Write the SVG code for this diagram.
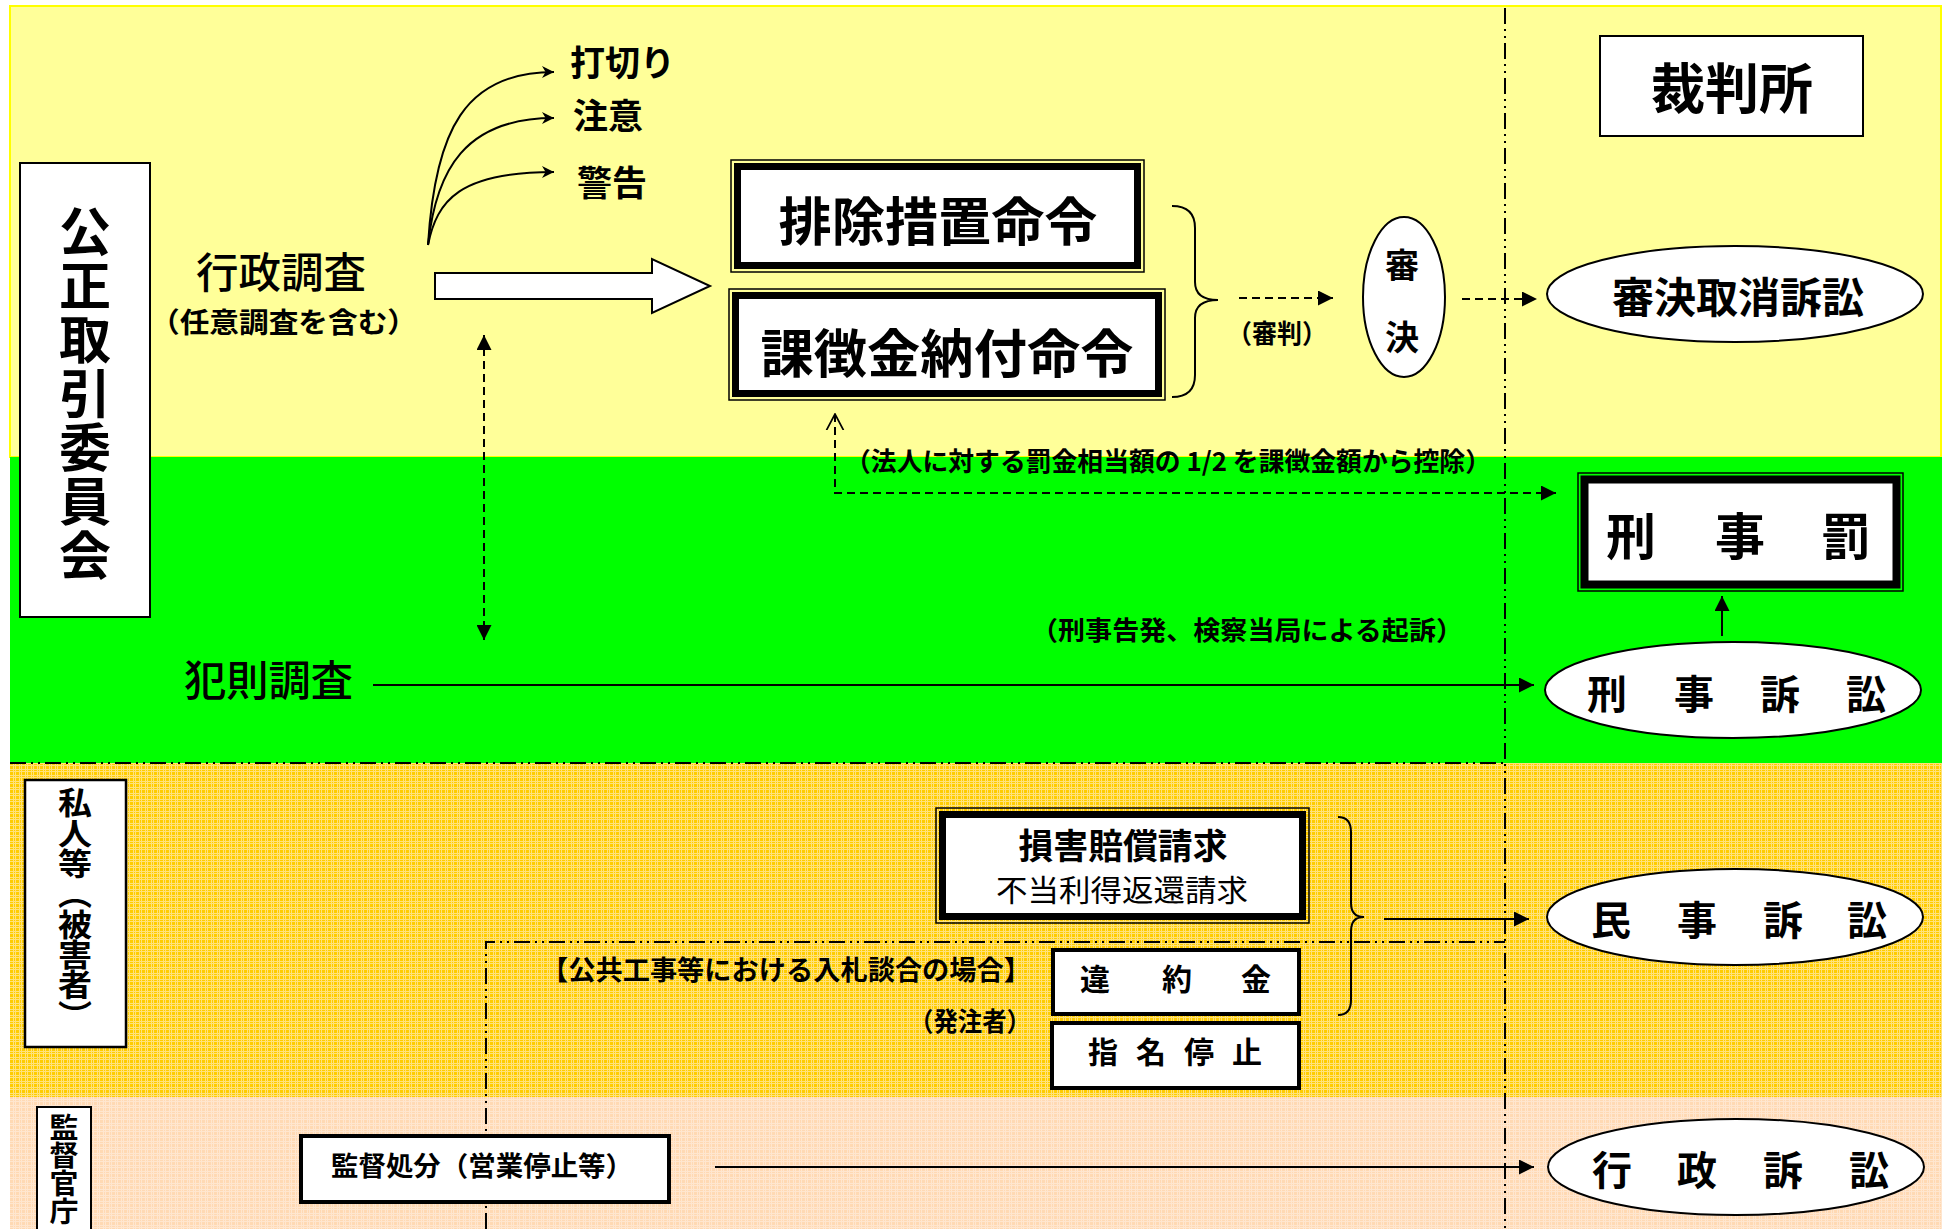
<svg xmlns="http://www.w3.org/2000/svg" width="1944" height="1229" viewBox="0 0 1944 1229">
<style>
text{font-family:"Noto Sans CJK JP","Noto Sans CJK SC",sans-serif;fill:#000;font-weight:700}
.m{text-anchor:middle}
.reg{font-weight:400}
.med{font-weight:500}
.vt{writing-mode:vertical-rl;text-anchor:middle}
.box{fill:#fff;stroke:#000;stroke-width:2}
.box4{fill:#fff;stroke:#000;stroke-width:4}
.fo{fill:none;stroke:#000;stroke-width:1.5}
.fi{fill:#fff;stroke:#000;stroke-width:7}
.ell{fill:#fff;stroke:#000;stroke-width:2}
.ln{fill:none;stroke:#000;stroke-width:2}
.dash{fill:none;stroke:#000;stroke-width:2;stroke-dasharray:8 5}
.dd{fill:none;stroke:#000;stroke-width:2;stroke-dasharray:16 5 2 5 2 5}
</style>
<defs>
<marker id="ah" viewBox="0 0 10 10" refX="10" refY="5" markerUnits="userSpaceOnUse" markerWidth="15" markerHeight="15" orient="auto-start-reverse"><path d="M0,0 L10,5 L0,10 z" fill="#000"/></marker>
<marker id="ahs" viewBox="0 0 10 10" refX="10" refY="5" markerUnits="userSpaceOnUse" markerWidth="13" markerHeight="12" orient="auto"><path d="M0,0 L10,5 L0,10 L3,5 z" fill="#000"/></marker>
<marker id="aho" viewBox="0 0 20 20" refX="19" refY="10" markerUnits="userSpaceOnUse" markerWidth="17" markerHeight="20" orient="auto-start-reverse"><path d="M0,0 L19,10 L0,20" fill="none" stroke="#000" stroke-width="2"/></marker>
<pattern id="gold" width="6" height="6" patternUnits="userSpaceOnUse"><rect width="6" height="6" fill="#FFCC00"/><path d="M0,1.5 H6 M0,3.5 H6 M1.5,0 V6 M3.5,0 V6" stroke="#FFE27A" stroke-width="1"/></pattern>
<pattern id="peach" width="6" height="6" patternUnits="userSpaceOnUse"><rect width="6" height="6" fill="#FFD9B3"/><path d="M0,1.5 H6 M0,3.5 H6 M1.5,0 V6 M3.5,0 V6" stroke="#FFE6CF" stroke-width="1"/></pattern>
</defs>

<g id="background">
<rect x="10" y="6" width="1931" height="451" fill="#FFFF99" stroke="#FFFF00" stroke-width="2"/>
<rect x="10" y="457" width="1932" height="306" fill="#00FF00"/>
<rect x="10" y="763" width="1932" height="334" fill="url(#gold)"/>
<rect x="10" y="1097" width="1932" height="132" fill="url(#peach)"/>
<path class="dd" d="M10,763 H1505"/>
<path class="dd" d="M1505,8 V1229"/>
<path class="dd" d="M486,1229 V942 H1505"/>
</g>

<g id="connectors">
<path class="ln" d="M428,245 C435,130 465,72 554,72" marker-end="url(#ahs)"/>
<path class="ln" d="M428,245 C436,170 465,118 554,118" marker-end="url(#ahs)"/>
<path class="ln" d="M428,245 C437,200 460,172 554,172" marker-end="url(#ahs)"/>
<polygon points="435,273 652,273 652,259 710,286 652,313 652,299 435,299" fill="#fff" stroke="#000" stroke-width="2"/>
<path class="dash" d="M484,335 V640" marker-start="url(#ah)" marker-end="url(#ah)"/>
<path class="ln" d="M1172,206 Q1195,206 1195,228 V282 Q1195,300 1218,300 Q1195,300 1195,318 V375 Q1195,397 1172,397"/>
<path class="dash" d="M1239,298 H1333" marker-end="url(#ah)"/>
<path class="dash" d="M1462,299 H1537" marker-end="url(#ah)"/>
<path class="dash" d="M835,414 V493 H1556" marker-start="url(#aho)" marker-end="url(#ah)"/>
<path class="ln" d="M373,685 H1534" marker-end="url(#ah)"/>
<path class="ln" d="M1722,636 V596" marker-end="url(#ah)"/>
<path class="ln" d="M1338,817 Q1351,817 1351,832 V903 Q1351,917 1364,917 Q1351,917 1351,931 V1000 Q1351,1015 1338,1015"/>
<path class="ln" d="M1384,919 H1529" marker-end="url(#ah)"/>
<path class="ln" d="M715,1167 H1534" marker-end="url(#ah)"/>
</g>

<g id="jftc">
<rect class="box" x="20" y="163" width="130" height="454"/>
<text class="vt" x="85" y="394" style="font-size:52px;letter-spacing:2px">公正取引委員会</text>
</g>
<g id="private">
<rect class="box" x="25" y="780" width="101" height="267" style="stroke-width:2.5"/>
<text class="vt" x="75" y="909" style="font-size:34px" textLength="243" lengthAdjust="spacingAndGlyphs">私人等（被害者）</text>
</g>
<g id="agency">
<rect class="box" x="37" y="1107" width="54" height="130"/>
<text class="vt" x="64" y="1169" style="font-size:29px" textLength="112" lengthAdjust="spacingAndGlyphs">監督官庁</text>
</g>

<g id="uchikiri"><text x="570" y="76" style="font-size:35px">打切り</text></g>
<g id="chui"><text x="573" y="129" style="font-size:35px">注意</text></g>
<g id="keikoku"><text x="577" y="196" style="font-size:35px">警告</text></g>

<g id="gyosei-chosa">
<text class="med" x="196" y="288" style="font-size:42px" textLength="170" lengthAdjust="spacingAndGlyphs">行政調査</text>
<text x="150" y="333" style="font-size:28px" textLength="267" lengthAdjust="spacingAndGlyphs">（任意調査を含む）</text>
</g>

<g id="haijo">
<rect class="fo" x="731" y="160" width="413" height="112"/>
<rect class="fi" x="737.5" y="166.5" width="400" height="99"/>
<text class="m" x="938" y="241" style="font-size:52px" textLength="319" lengthAdjust="spacingAndGlyphs">排除措置命令</text>
</g>
<g id="kachokin">
<rect class="fo" x="729" y="289" width="436" height="111"/>
<rect class="fi" x="735.5" y="295.5" width="423" height="98"/>
<text class="m" x="947" y="373" style="font-size:52px" textLength="373" lengthAdjust="spacingAndGlyphs">課徴金納付命令</text>
</g>
<g id="shinpan-label"><text x="1227" y="343" style="font-size:26px" textLength="100" lengthAdjust="spacingAndGlyphs">（審判）</text></g>
<g id="shinketsu">
<ellipse class="ell" cx="1404" cy="297" rx="41" ry="80"/>
<text class="m" x="1402" y="278" style="font-size:34px">審</text>
<text class="m" x="1402" y="350" style="font-size:34px">決</text>
</g>

<g id="saibansho">
<rect class="box" x="1600" y="36" width="263" height="100"/>
<text class="m" x="1732" y="109" style="font-size:54px">裁判所</text>
</g>
<g id="torikeshi">
<ellipse class="ell" cx="1735" cy="294" rx="188" ry="48"/>
<text class="m" x="1738" y="313" style="font-size:42px">審決取消訴訟</text>
</g>

<g id="kojo-label"><text x="845" y="471" style="font-size:26px" textLength="646" lengthAdjust="spacingAndGlyphs">（法人に対する罰金相当額の 1/2 を課徴金額から控除）</text></g>
<g id="kokuhatsu-label"><text x="1031" y="640" style="font-size:26px" textLength="432" lengthAdjust="spacingAndGlyphs">（刑事告発、検察当局による起訴）</text></g>
<g id="hansoku"><text class="med" x="184" y="696" style="font-size:42px" textLength="169" lengthAdjust="spacingAndGlyphs">犯則調査</text></g>

<g id="keijibatsu">
<rect class="fo" x="1578" y="473" width="325" height="118"/>
<rect class="fi" x="1584.5" y="479.5" width="312" height="105" style="stroke-width:8"/>
<text class="m" x="1631 1740 1846" y="555" style="font-size:50px">刑事罰</text>
</g>
<g id="keiji-sosho">
<ellipse class="ell" cx="1733" cy="690" rx="188" ry="48"/>
<text class="m" x="1607 1694 1780 1866" y="709" style="font-size:40px">刑事訴訟</text>
</g>

<g id="songai">
<rect class="fo" x="936" y="808" width="373" height="115"/>
<rect class="fi" x="942.5" y="814.5" width="360" height="102"/>
<text class="m" x="1123" y="859" style="font-size:35px" textLength="209" lengthAdjust="spacingAndGlyphs">損害賠償請求</text>
<text class="m reg" x="1122" y="901" style="font-size:30px" textLength="252" lengthAdjust="spacingAndGlyphs">不当利得返還請求</text>
</g>
<g id="kokyo-label">
<text x="541" y="980" style="font-size:27px" textLength="490" lengthAdjust="spacingAndGlyphs">【公共工事等における入札談合の場合】</text>
<text x="909" y="1031" style="font-size:26px" textLength="122" lengthAdjust="spacingAndGlyphs">（発注者）</text>
</g>
<g id="iyakukin">
<rect class="box4" x="1053" y="950" width="246" height="64"/>
<text class="m" x="1095 1177 1256" y="990" style="font-size:30px">違約金</text>
</g>
<g id="shimei">
<rect class="box4" x="1052" y="1023" width="247" height="65"/>
<text class="m" x="1103 1151 1199 1247" y="1063" style="font-size:30px">指名停止</text>
</g>
<g id="minji-sosho">
<ellipse class="ell" cx="1735" cy="917" rx="188" ry="48"/>
<text class="m" x="1611 1697 1783 1867" y="935" style="font-size:40px">民事訴訟</text>
</g>
<g id="kantoku">
<rect class="box4" x="301" y="1136" width="368" height="66"/>
<text x="331" y="1176" style="font-size:27px" textLength="302" lengthAdjust="spacingAndGlyphs">監督処分（営業停止等）</text>
</g>
<g id="gyosei-sosho">
<ellipse class="ell" cx="1736" cy="1167" rx="188" ry="48"/>
<text class="m" x="1612 1697 1783 1869" y="1185" style="font-size:40px">行政訴訟</text>
</g>
</svg>
